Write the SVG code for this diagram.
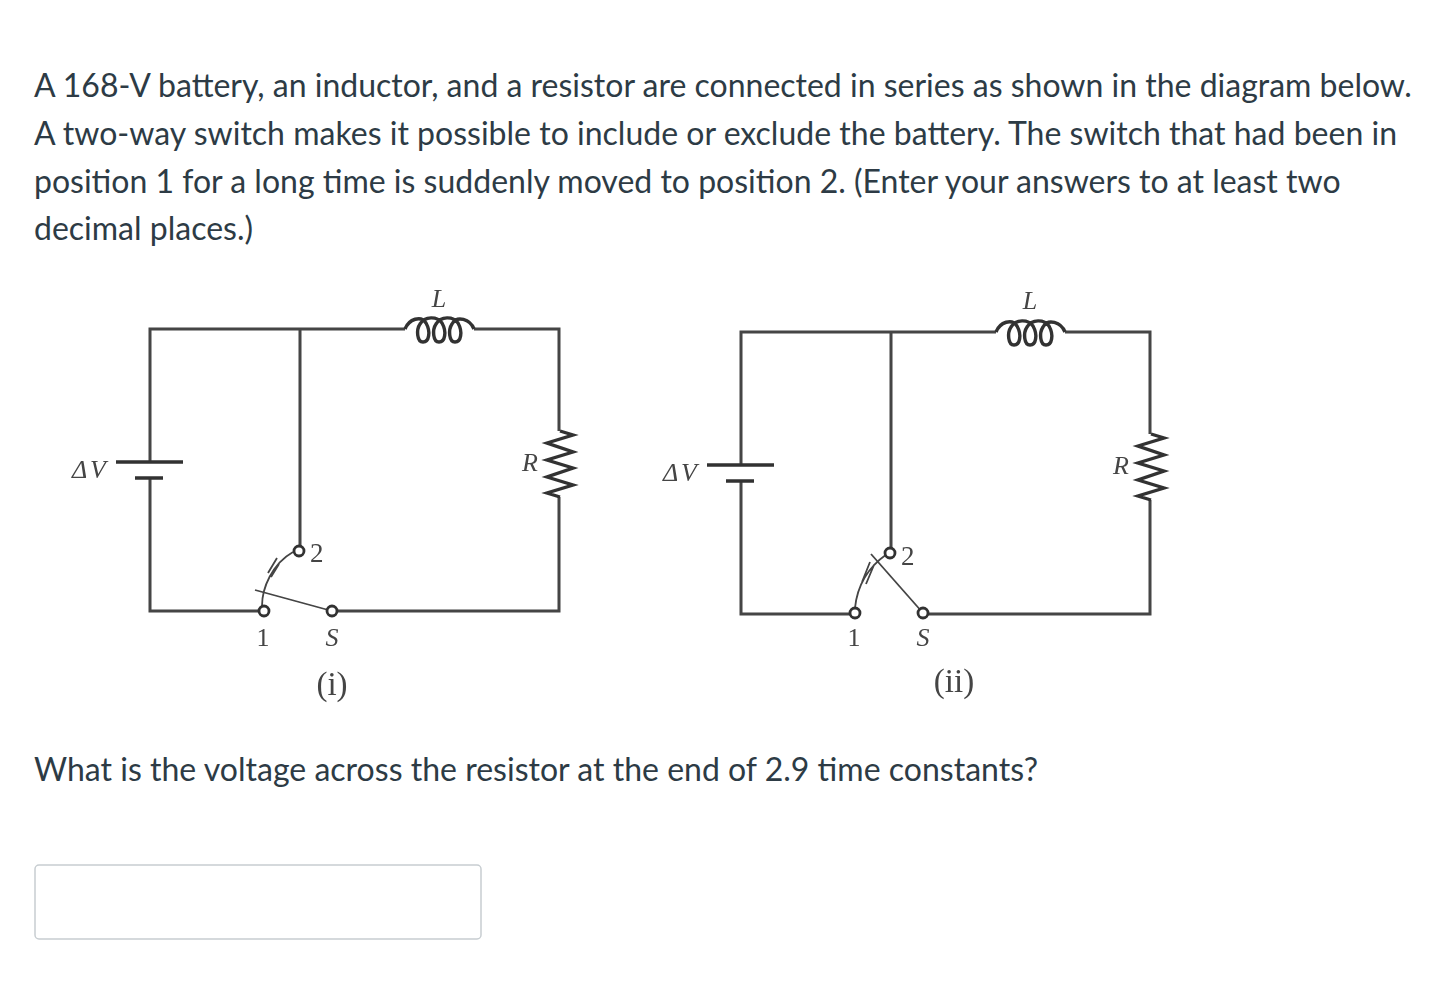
<svg xmlns="http://www.w3.org/2000/svg" width="1454" height="990" viewBox="0 0 1454 990">
<style>
.q{font-family:Lato,"Open Sans",sans-serif;font-size:32px;fill:#2d3b45}
.w{fill:none;stroke:#444;stroke-width:3}
.p{fill:none;stroke:#333;stroke-width:3.4}
.t{fill:none;stroke:#444;stroke-width:1.8}
.c{fill:#fff;stroke:#333;stroke-width:2.8}
.l{font-family:"Liberation Serif",serif;font-size:26px;fill:#444}
.i{font-style:italic}
.m{text-anchor:middle}
</style>
<defs>
<filter id="b" x="-5%" y="-5%" width="110%" height="110%"><feGaussianBlur stdDeviation="0.55"/></filter>
<g id="frame">
<path class="w" d="M300 329H150V462M150 478V611H264M300 329V551M332 611H559V497M559 431V329H474M405 329H150"/>
</g>
<g id="bat"><path class="p" d="M116 462H183M135 478H163"/></g>
<path id="coil" class="p" d="M405 329C409 319 421 315 426 323C431 332 429 342 423 342C417 342 416 330 420 324C425 316 437 316 442 323C447 332 445 342 439 342C433 342 432 330 436 324C441 316 453 316 458 323C463 332 461 342 455 342C449 342 448 330 452 324C457 315 470 319 474 329"/>
<path id="res" class="p" d="M560 431L573 435L547 443L573 452L547 460L573 468L547 477L573 485L547 493L560 497"/>
</defs>
<rect width="1454" height="990" fill="#fff"/>
<g id="question">
<text class="q" x="34" y="96.500">A 168-V battery, an inductor, and a resistor are connected in series as shown in the diagram below.</text>
<text class="q" x="34" y="144.500" textLength="1363">A two-way switch makes it possible to include or exclude the battery. The switch that had been in</text>
<text class="q" x="34" y="192.500">position 1 for a long time is suddenly moved to position 2. (Enter your answers to at least two</text>
<text class="q" x="34" y="239.500">decimal places.)</text>
<text class="q" x="34" y="780.500" textLength="1004">What is the voltage across the resistor at the end of 2.9 time constants?</text>
</g>
<g filter="url(#b)">
<g id="connectors">
<use href="#frame"/>
<use href="#frame" x="591" y="3"/>
</g>
<g id="circuit-i">
<g id="battery-1"><use href="#bat"/><text class="l i" x="72" y="478" textLength="34">ΔV</text></g>
<g id="inductor-1"><use href="#coil"/><text class="l i m" x="439" y="307">L</text></g>
<g id="resistor-1"><use href="#res"/><text class="l i" x="522" y="471">R</text></g>
<g id="switch-1">
<path class="t" d="M262 606C262 588 272 564 293 552M268 573L277 558M271 577L279 564"/>
<path class="t" d="M255 590L332 611"/>
<circle class="c" cx="299" cy="551" r="5"/><circle class="c" cx="264" cy="611" r="5"/><circle class="c" cx="332" cy="611" r="5"/>
<text class="l" x="310" y="562" style="font-size:27px">2</text>
<text class="l m" x="263" y="646">1</text>
<text class="l i m" x="332" y="646">S</text>
<text class="l m" x="332" y="695" style="font-size:33px">(i)</text>
</g>
</g>
<g id="circuit-ii" transform="translate(591 3)">
<g id="battery-2"><use href="#bat"/><text class="l i" x="72" y="478" textLength="34">ΔV</text></g>
<g id="inductor-2"><use href="#coil"/><text class="l i m" x="439" y="306">L</text></g>
<g id="resistor-2"><use href="#res"/><text class="l i" x="522" y="471">R</text></g>
<g id="switch-2">
<path class="t" d="M264 605C266 585 276 565 296 551M271 579L279 559M275 581L283 562"/>
<path class="t" d="M280 551L332 610"/>
<circle class="c" cx="299" cy="550" r="5"/><circle class="c" cx="264" cy="610" r="5"/><circle class="c" cx="332" cy="610" r="5"/>
<text class="l" x="310" y="562" style="font-size:27px">2</text>
<text class="l m" x="263" y="643">1</text>
<text class="l i m" x="332" y="643">S</text>
<text class="l m" x="363" y="689" style="font-size:33px">(ii)</text>
</g>
</g>
</g>
<g id="answer-box"><rect x="35" y="865" width="446" height="74" rx="4" fill="#fff" stroke="#c7cdd1" stroke-width="1.5"/></g>
</svg>
